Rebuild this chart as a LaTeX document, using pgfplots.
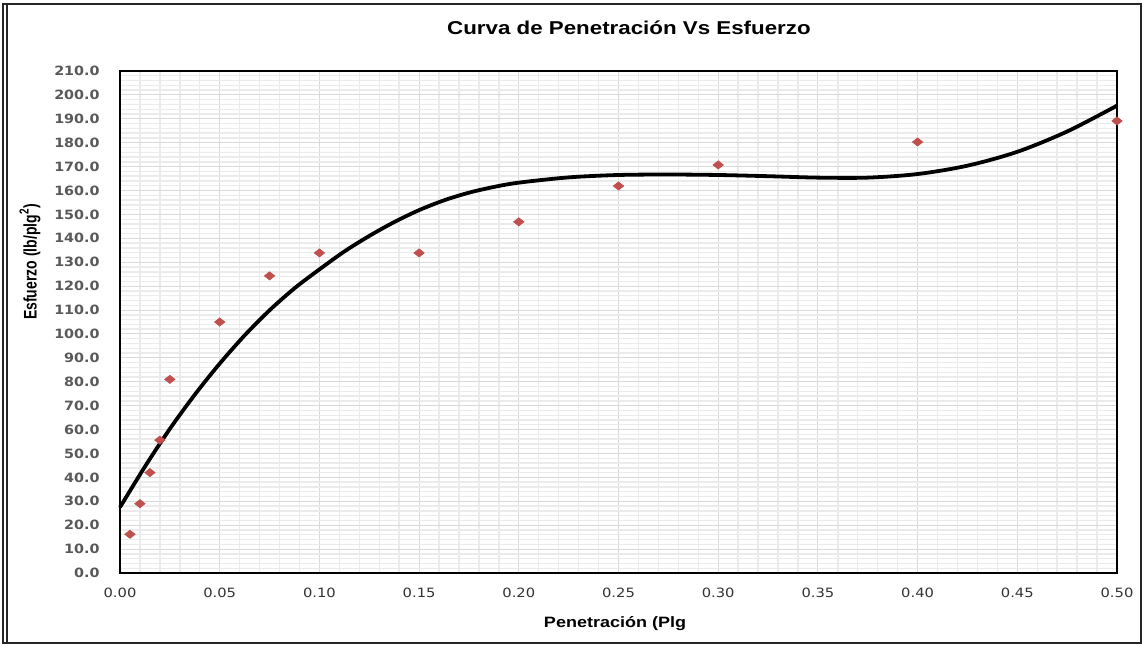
\documentclass[border=0pt]{standalone}
\usepackage{pgfplots}
\pgfplotsset{compat=1.18}
\usepackage{fontspec}
\setmainfont{Liberation Sans}
\newfontfamily\titlefont[FakeStretch=1.2]{Liberation Sans}
\newfontfamily\ytickfont[FakeStretch=1.12]{DejaVu Sans}
\newfontfamily\xtickfont[FakeStretch=1.15]{DejaVu Sans}
\definecolor{ptred}{HTML}{C0504D}
\definecolor{majgrid}{HTML}{D9D9D9}
\definecolor{mingrid}{HTML}{EBEBEB}
\definecolor{ytickcol}{HTML}{595959}
\definecolor{xtickcol}{HTML}{333333}
\begin{document}
\begin{tikzpicture}
\useasboundingbox (-60pt,-36pt) rectangle (513pt,286.5pt);
\draw[line width=0.6pt, black!85] (-58.5pt,-35pt) -- (-58.5pt,284.5pt) -- (510.5pt,284.5pt) -- (510.5pt,-35pt) -- cycle;
\draw[line width=0.6pt, black!85] (-56.5pt,-35pt) -- (-56.5pt,284.5pt);
\begin{axis}[
  at={(0pt,0pt)}, anchor=south west,
  scale only axis, width=498.5pt, height=251pt,
  xmin=0, xmax=0.5, ymin=0, ymax=210,
  xtick={0,0.05,...,0.51}, ytick={0,10,...,210},
  minor x tick num=4, minor y tick num=4,
  grid=both,
  major grid style={majgrid, line width=0.5pt},
  minor grid style={mingrid, line width=0.7pt},
  major tick length=0pt, minor tick length=0pt,
  axis line style={black, line width=0.8pt},
  clip=false,
  /pgf/number format/assume math mode=true,
  xticklabel style={/pgf/number format/.cd, fixed, fixed zerofill, precision=2, /tikz/.cd,
    font=\xtickfont\fontsize{6.4}{7}\selectfont, text=xtickcol, anchor=center, inner sep=0pt, yshift=-10pt},
  yticklabel style={/pgf/number format/.cd, fixed, fixed zerofill, precision=1, /tikz/.cd,
    font=\ytickfont\bfseries\fontsize{6.4}{7}\selectfont, text=ytickcol, anchor=east, inner sep=0pt, xshift=-10pt},
  scaled x ticks=false, scaled y ticks=false,
  title={Curva de Penetración Vs Esfuerzo},
  title style={font=\titlefont\bfseries\fontsize{9.3}{11}\selectfont, at={(rel axis cs:0.5105,1)}, anchor=center, yshift=15.5pt},
  xlabel={Penetración (Plg},
  xlabel style={font=\titlefont\bfseries\fontsize{7.5}{9}\selectfont, at={(axis description cs:0.4965,0)}, anchor=center, yshift=-25.5pt},
  ylabel={\scalebox{1}[1.3]{Esfuerzo (lb/plg\textsuperscript{2})}},
  ylabel style={font=\bfseries\fontsize{7}{8}\selectfont, at={(axis description cs:-0.0903,0.62)}, anchor=center},
]
\addplot[black, line width=1.9pt, smooth, tension=0.5] table {
x y
0 27.5
0.0125 44.5
0.025 60.3
0.0375 74.6
0.05 87.6
0.0625 99.4
0.075 109.9
0.0875 119.1
0.1 127.0
0.1125 134.5
0.125 141.0
0.1375 146.8
0.15 151.8
0.1625 155.9
0.175 159.1
0.1875 161.5
0.2 163.3
0.225 165.5
0.25 166.5
0.275 166.7
0.3 166.5
0.325 166.0
0.35 165.4
0.375 165.4
0.4 166.9
0.425 170.4
0.45 176.2
0.475 184.7
0.5 195.5
};
\addplot[only marks, mark=diamond*, mark size=2pt, mark options={xscale=1.7, fill=ptred, draw=ptred}] table {
x y
0.005 16.2
0.010 29
0.015 42
0.020 55.6
0.025 81
0.050 105
0.075 124.3
0.100 133.9
0.150 133.9
0.200 146.9
0.250 161.9
0.300 170.7
0.400 180.3
0.500 189.1
};
\end{axis}
\end{tikzpicture}
\end{document}
